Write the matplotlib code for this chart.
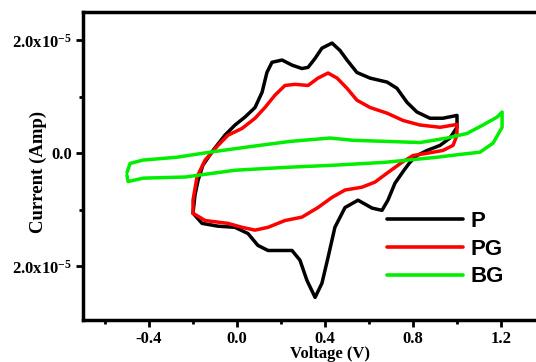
import matplotlib
matplotlib.use("Agg")
import matplotlib.pyplot as plt
from matplotlib.ticker import FixedLocator, FixedFormatter

plt.rcParams['font.family'] = ['Liberation Serif', 'DejaVu Serif']
plt.rcParams['font.weight'] = 'bold'
plt.rcParams['mathtext.fontset'] = 'custom'
plt.rcParams['mathtext.rm'] = 'Liberation Serif:bold'
plt.rcParams['mathtext.bf'] = 'Liberation Serif:bold'
plt.rcParams['mathtext.it'] = 'Liberation Serif:bold:italic'
plt.rcParams['mathtext.default'] = 'bf'

p_v = [-0.2, -0.191, -0.177, -0.155, -0.109, -0.055, -0.009, 0.036, 0.082, 0.114,
       0.136, 0.159, 0.205, 0.25, 0.295, 0.323, 0.355, 0.386, 0.432, 0.468,
       0.5, 0.545, 0.605, 0.682, 0.727, 0.773, 0.818, 0.877, 0.936, 1.0,
       1.0, 0.968, 0.923, 0.864, 0.818, 0.786, 0.759, 0.718, 0.686, 0.659,
       0.614, 0.55, 0.491, 0.445, 0.414, 0.386, 0.355, 0.318, 0.286, 0.25,
       0.205, 0.141, 0.095, 0.05, -0.009, -0.086, -0.159, -0.2]
p_i = [-1.06, -0.74, -0.48, -0.21, 0.05, 0.32, 0.50, 0.64, 0.81, 1.08,
       1.43, 1.61, 1.65, 1.56, 1.50, 1.52, 1.68, 1.86, 1.95, 1.82,
       1.65, 1.43, 1.33, 1.26, 1.15, 0.90, 0.73, 0.62, 0.62, 0.67,
       0.46, 0.27, 0.14, 0.05, -0.04, -0.16, -0.30, -0.53, -0.83, -1.01,
       -0.97, -0.83, -0.96, -1.31, -1.84, -2.30, -2.55, -2.25, -1.89, -1.72,
       -1.72, -1.72, -1.63, -1.42, -1.31, -1.29, -1.24, -1.06]

pg_v = [-0.2, -0.2, -0.182, -0.145, -0.086, -0.041, 0.023, 0.082, 0.127, 0.173,
        0.218, 0.264, 0.323, 0.368, 0.414, 0.455, 0.5, 0.545, 0.605, 0.682,
        0.755, 0.832, 0.923, 1.0,
        1.0, 0.982, 0.936, 0.864, 0.8, 0.75, 0.686, 0.627, 0.568, 0.491,
        0.432, 0.368, 0.295, 0.218, 0.141, 0.082, 0.023, -0.041, -0.145, -0.2]
pg_i = [-1.06, -0.83, -0.42, -0.12, 0.14, 0.32, 0.44, 0.62, 0.81, 1.03,
        1.20, 1.22, 1.20, 1.33, 1.42, 1.33, 1.15, 0.94, 0.81, 0.71,
        0.58, 0.50, 0.46, 0.51,
        0.32, 0.14, 0.05, 0.0, -0.04, -0.16, -0.34, -0.51, -0.60, -0.65,
        -0.78, -0.96, -1.13, -1.19, -1.31, -1.36, -1.31, -1.24, -1.19, -1.06]

bg_v = [-0.5, -0.486, -0.427, -0.273, -0.123, 0.045, 0.241, 0.423, 0.527, 0.682,
        0.832, 0.955, 1.045, 1.118, 1.182, 1.205,
        1.205, 1.164, 1.105, 1.014, 0.909, 0.777, 0.673, 0.445, 0.218, -0.009,
        -0.236, -0.427, -0.495, -0.5]
bg_i = [-0.34, -0.18, -0.12, -0.07, 0.02, 0.11, 0.21, 0.27, 0.23, 0.21,
        0.19, 0.27, 0.35, 0.50, 0.64, 0.73,
        0.46, 0.18, 0.02, -0.02, -0.07, -0.12, -0.16, -0.21, -0.25, -0.30,
        -0.42, -0.44, -0.50, -0.39]

x_ticks = [-0.4, 0.0, 0.4, 0.8, 1.2]
x_labels = ['-0.4', '0.0', '0.4', '0.8', '1.2']
y_ticks = [-2e-5, 0.0, 2e-5]
y_labels = ['2.0x10$^{-5}$', '0.0', '2.0x10$^{-5}$']

fig = plt.figure(figsize=(5.36, 3.62), dpi=100)
ax = fig.add_axes([83 / 536, 42 / 362, 495 / 536, 308 / 362])

scale = 1e-5
kw = dict(lw=2.5, solid_joinstyle='round', solid_capstyle='round')
ax.plot(p_v, [i * scale for i in p_i], color='black', label='P', **kw)
ax.plot(pg_v, [i * scale for i in pg_i], color='#ff0000', label='PG', **kw)
ax.plot(bg_v, [i * scale for i in bg_i], color='#00ee00', label='BG', **kw)

ax.set_xlim(-0.7, 1.55)
ax.set_ylim(-2.95e-5, 2.5e-5)

ax.xaxis.set_major_locator(FixedLocator(x_ticks))
ax.xaxis.set_major_formatter(FixedFormatter(x_labels))
ax.xaxis.set_minor_locator(FixedLocator([-0.6, -0.2, 0.2, 0.6, 1.0, 1.4]))
ax.yaxis.set_major_locator(FixedLocator(y_ticks))
ax.yaxis.set_major_formatter(FixedFormatter(y_labels))
ax.yaxis.set_minor_locator(FixedLocator([-1e-5, 1e-5]))

ax.tick_params(which='both', direction='out', width=2, labelsize=12)
ax.tick_params(which='major', length=5, pad=3)
ax.tick_params(which='minor', length=3)
ax.tick_params(top=False, right=False)

for s in ax.spines.values():
    s.set_linewidth(2.5)

ax.set_xlabel('Voltage (V)', fontsize=12, fontweight='bold')
ax.set_ylabel('Current (Amp)', fontsize=13.5, fontweight='bold')
ax.xaxis.set_label_coords(0.5, -0.083)
ax.yaxis.set_label_coords(-0.073, 0.48)

leg = ax.legend(loc='upper left', bbox_to_anchor=(387 / 536, 0.417),
                bbox_transform=fig.transFigure, frameon=False,
                prop={'family': 'Liberation Sans', 'weight': 'bold', 'size': 16},
                handlelength=3.42, handletextpad=0.32, labelspacing=0.3,
                borderpad=0, borderaxespad=0)
for line in leg.get_lines():
    line.set_linewidth(2.6)

fig.savefig('out.png', dpi=100)
